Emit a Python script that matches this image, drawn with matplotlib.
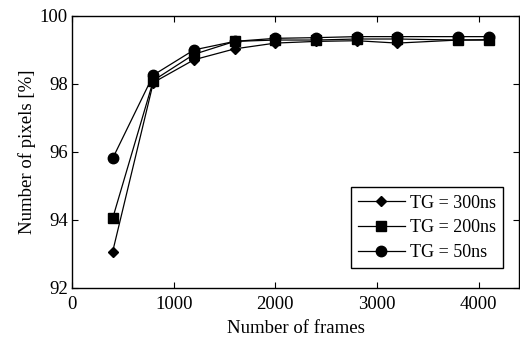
import matplotlib
matplotlib.use('Agg')
import matplotlib.pyplot as plt

plt.rcParams['font.family'] = 'Liberation Serif'
plt.rcParams['font.size'] = 13.5

frames = [400, 800, 1200, 1600, 2000, 2400, 2800, 3200, 3800, 4100]
tg300 = [93.07, 98.04, 98.71, 99.03, 99.20, 99.25, 99.27, 99.20, 99.29, 99.29]
tg200 = [94.05, 98.10, 98.87, 99.25, 99.29, 99.29, 99.32, 99.32, 99.29, 99.30]
tg50 = [95.81, 98.26, 99.00, 99.25, 99.34, 99.36, 99.39, 99.39, 99.39, 99.39]

fig = plt.figure(figsize=(5.2, 3.38), dpi=100)
ax = fig.add_axes([0.1385, 0.148, 0.86, 0.805])

ax.plot(frames, tg300, color='black', lw=0.9, marker='D', ms=5.5, label='TG = 300ns')
ax.plot(frames, tg200, color='black', lw=0.9, marker='s', ms=7, label='TG = 200ns')
ax.plot(frames, tg50, color='black', lw=0.9, marker='o', ms=7.5, label='TG = 50ns')

ax.set_xlim(0, 4400)
ax.set_ylim(92, 100)
ax.set_xticks([0, 1000, 2000, 3000, 4000])
ax.set_yticks([92, 94, 96, 98, 100])
ax.tick_params(direction='in', top=True, right=True, length=4, width=0.8, pad=3)
ax.tick_params(axis='x', pad=6)
for s in ax.spines.values():
    s.set_linewidth(1.0)

ax.set_xlabel('Number of frames', labelpad=5)
ax.set_ylabel('Number of pixels [%]', labelpad=3)

leg = ax.legend(loc='lower right', bbox_to_anchor=(0.985, 0.04), fancybox=False,
                edgecolor='black', framealpha=1, handlelength=2.6, borderpad=0.4,
                labelspacing=0.42, handletextpad=0.3, fontsize=13)
leg.get_frame().set_linewidth(1.0)

fig.savefig('out.png', dpi=100)
